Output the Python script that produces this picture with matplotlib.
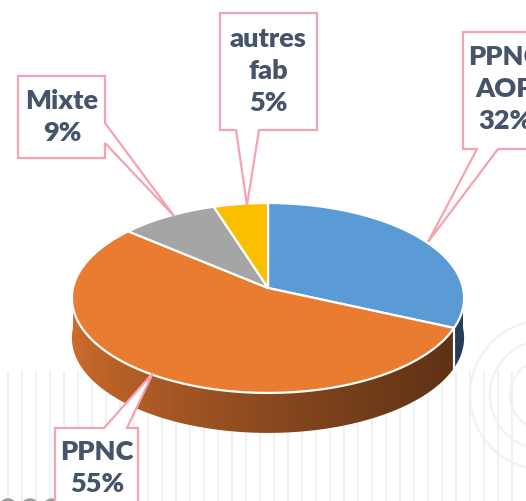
import numpy as np
import matplotlib
matplotlib.use("Agg")
import matplotlib.pyplot as plt
from matplotlib.patches import Polygon, Circle, Arc
from matplotlib.colors import to_rgb

# données
labels = ["PPNC\nAOP\n32%", "PPNC\n55%", "Mixte\n9%", "autres\nfab\n5%"]
values = [32, 55, 9, 5]
top_colors = ["#5b9bd5", "#ea7c31", "#a5a5a5", "#f9bf00"]
side_colors = [("#223e5a", "#223e5a"), ("#cc6c2c", "#5c3115"),
               ("#6e6e6e", "#6e6e6e"), ("#9a7400", "#9a7400")]

TXT = "#44546a"
PINK = "#f4a3b0"
BGLINE = "#eff2f3"

W, H = 526, 501
fig = plt.figure(figsize=(W / 100, H / 100), dpi=100)
ax = fig.add_axes([0, 0, 1, 1])
ax.set_xlim(0, W)
ax.set_ylim(H, 0)
ax.axis("off")

# fond: motif très pâle
for xv in np.arange(8, W, 14):
    ax.plot([xv, xv], [372, H], color=BGLINE, lw=1.5, zorder=0)
for r in [35, 55, 75]:
    ax.add_patch(Arc((545, 395), 2 * r, 2 * r, theta1=90, theta2=270,
                     color=BGLINE, lw=1.6, zorder=0.2))
    ax.add_patch(Arc((525, 540), 2 * r + 30, 2 * r + 30, theta1=90, theta2=180,
                     color=BGLINE, lw=1.6, zorder=0.2))
for xc in [8, 30, 52]:
    ax.add_patch(Circle((xc, 508), 9, color="#9c9c9c", zorder=0.5))

# projection perspective du camembert
CX, CY = 268, 288
RX, RY = 195, 93.9
B = 0.105
DEPTH = 40


def proj(phi_deg):
    phi = np.radians(phi_deg)
    z = np.sin(phi)
    den = 1 + B * z
    return CX + RX * np.cos(phi) / den, CY - RY * z / den


fracs = np.array(values) / np.sum(values)
starts = 90 - np.concatenate([[0], np.cumsum(fracs)[:-1]]) * 360
ends = starts - fracs * 360

# côtés (partie avant visible, de 180 à 360 degrés)
xg = np.linspace(60, 480, 300)
for s, e, (c1, c2) in zip(starts, ends, side_colors):
    lo, hi = min(s, e), max(s, e)
    for shift in (0, 360, -360):
        a0, a1 = max(lo + shift, 180), min(hi + shift, 360)
        if a1 <= a0:
            continue
        ts = np.linspace(a0, a1, 200)
        xs, ys = proj(ts)
        pts = list(zip(xs, ys)) + list(zip(xs[::-1], ys[::-1] + DEPTH))
        poly = Polygon(pts, closed=True, facecolor="none", edgecolor="none", zorder=2)
        ax.add_patch(poly)
        f = np.clip((xg - 75) / 390, 0, 1) ** 0.75
        grad = np.array([np.array(to_rgb(c1)) * (1 - ff) + np.array(to_rgb(c2)) * ff for ff in f])
        im = ax.imshow(grad[np.newaxis, :, :], extent=(60, 480, 450, 270), aspect="auto",
                       interpolation="bilinear", zorder=2)
        im.set_clip_path(poly)
        for a in (a0, a1):
            if 180 < a < 360:
                xa, ya = proj(a)
                ax.plot([xa, xa], [ya, ya + DEPTH], color="white", lw=1.5, zorder=2.5)

ax.set_xlim(0, W)
ax.set_ylim(H, 0)

# dessus
for s, e, col in zip(starts, ends, top_colors):
    ts = np.linspace(s, e, 200)
    xs, ys = proj(ts)
    pts = [(CX, CY)] + list(zip(xs, ys))
    ax.add_patch(Polygon(pts, closed=True, facecolor=col, edgecolor="white",
                         lw=1.6, joinstyle="round", zorder=3))

# étiquettes avec bulles
callouts = [
    dict(poly=[(463, 32), (570, 32), (570, 149), (498, 149), (428, 242), (477, 149), (463, 149)],
         xy=(505, 89)),
    dict(poly=[(55, 428), (104, 428), (153, 373), (127, 428), (138, 428), (138, 530), (55, 530)],
         xy=(97, 468)),
    dict(poly=[(18, 76), (105, 76), (105, 123), (174, 216), (105, 143), (105, 158), (18, 158)],
         xy=(62, 117)),
    dict(poly=[(220, 13), (317, 13), (317, 130), (259, 130), (247, 205), (236, 130), (220, 130)],
         xy=(268, 71)),
]
for lab, c in zip(labels, callouts):
    ax.add_patch(Polygon(c["poly"], closed=True, facecolor="white", edgecolor=PINK,
                         lw=1.6, zorder=5))
    ax.text(c["xy"][0], c["xy"][1], lab, ha="center", va="center", color=TXT,
            fontsize=19.5, fontweight="heavy", family=["Lato", "DejaVu Sans"],
            linespacing=1.4, zorder=6)

fig.savefig("out.png", dpi=100, facecolor="white")
plt.close()
